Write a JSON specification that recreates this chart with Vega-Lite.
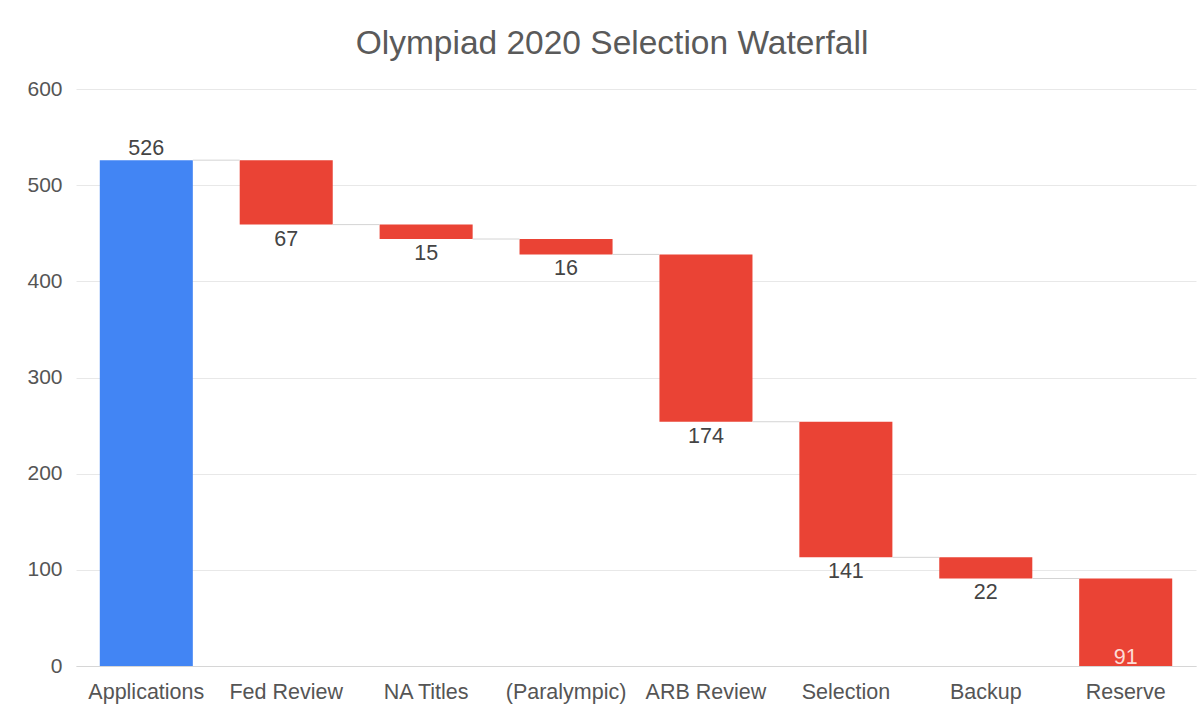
{
  "$schema": "https://vega.github.io/schema/vega-lite/v6.json",
  "width": 1120,
  "height": 577,
  "autosize": {"type": "none"},
  "padding": {"left": 76, "top": 89, "right": 4, "bottom": 47},
  "background": "white",
  "title": {"text": "Olympiad 2020 Selection Waterfall", "fontSize": 33.5, "font": "Liberation Sans", "fontWeight": "normal", "color": "#5a5a5a", "anchor": "middle", "offset": 17, "dx": -24},
  "config": {
    "view": {"stroke": null},
    "font": "Liberation Sans",
    "axis": {"labelFont": "Liberation Sans", "labelColor": "#555555", "ticks": false, "title": null}
  },
  "data": {"values": [
    {"cat": "Applications", "start": 0, "end": 526, "amount": 526, "kind": "total", "next": "Fed Review"},
    {"cat": "Fed Review", "start": 526, "end": 459, "amount": 67, "kind": "decrease", "next": "NA Titles"},
    {"cat": "NA Titles", "start": 459, "end": 444, "amount": 15, "kind": "decrease", "next": "(Paralympic)"},
    {"cat": "(Paralympic)", "start": 444, "end": 428, "amount": 16, "kind": "decrease", "next": "ARB Review"},
    {"cat": "ARB Review", "start": 428, "end": 254, "amount": 174, "kind": "decrease", "next": "Selection"},
    {"cat": "Selection", "start": 254, "end": 113, "amount": 141, "kind": "decrease", "next": "Backup"},
    {"cat": "Backup", "start": 113, "end": 91, "amount": 22, "kind": "decrease", "next": "Reserve"},
    {"cat": "Reserve", "start": 91, "end": 0, "amount": 91, "kind": "decrease", "next": null}
  ]},
  "encoding": {
    "x": {"field": "cat", "type": "nominal", "sort": null,
          "scale": {"domain": ["Applications", "Fed Review", "NA Titles", "(Paralympic)", "ARB Review", "Selection", "Backup", "Reserve"], "paddingInner": 0.335, "paddingOuter": 0.17},
          "axis": {"labelAngle": 0, "labelFontSize": 21.5, "labelPadding": 15, "domain": true, "domainColor": "#d6d6d6", "grid": false}}
  },
  "layer": [
    {
      "mark": {"type": "bar"},
      "encoding": {
        "y": {"field": "start", "type": "quantitative", "scale": {"domain": [0, 600]},
              "axis": {"values": [0, 100, 200, 300, 400, 500, 600], "labelFontSize": 21, "labelPadding": 14, "gridColor": "#e8e8e8", "domain": false}},
        "y2": {"field": "end"},
        "color": {"field": "kind", "type": "nominal", "scale": {"domain": ["total", "decrease"], "range": ["#4285f4", "#ea4335"]}, "legend": null}
      }
    },
    {
      "transform": [{"filter": "datum.next != null"}],
      "mark": {"type": "rule", "color": "#d4d4d4", "strokeWidth": 1},
      "encoding": {
        "x": {"field": "cat", "type": "nominal", "sort": null, "bandPosition": 1},
        "x2": {"field": "next", "bandPosition": 0},
        "y": {"field": "end", "type": "quantitative"}
      }
    },
    {
      "transform": [{"filter": "datum.kind == 'total'"}],
      "mark": {"type": "text", "baseline": "alphabetic", "dy": -5, "fontSize": 21.5, "color": "#444444"},
      "encoding": {
        "y": {"field": "end", "type": "quantitative"},
        "text": {"field": "amount", "type": "quantitative"}
      }
    },
    {
      "transform": [{"filter": "datum.kind == 'decrease' && datum.end > 0"}],
      "mark": {"type": "text", "baseline": "alphabetic", "dy": 21, "fontSize": 21.5, "color": "#444444"},
      "encoding": {
        "y": {"field": "end", "type": "quantitative"},
        "text": {"field": "amount", "type": "quantitative"}
      }
    },
    {
      "transform": [{"filter": "datum.kind == 'decrease' && datum.end == 0"}],
      "mark": {"type": "text", "baseline": "alphabetic", "dy": -2, "fontSize": 21.5, "color": "#fddcd6"},
      "encoding": {
        "y": {"field": "end", "type": "quantitative"},
        "text": {"field": "amount", "type": "quantitative"}
      }
    }
  ]
}
